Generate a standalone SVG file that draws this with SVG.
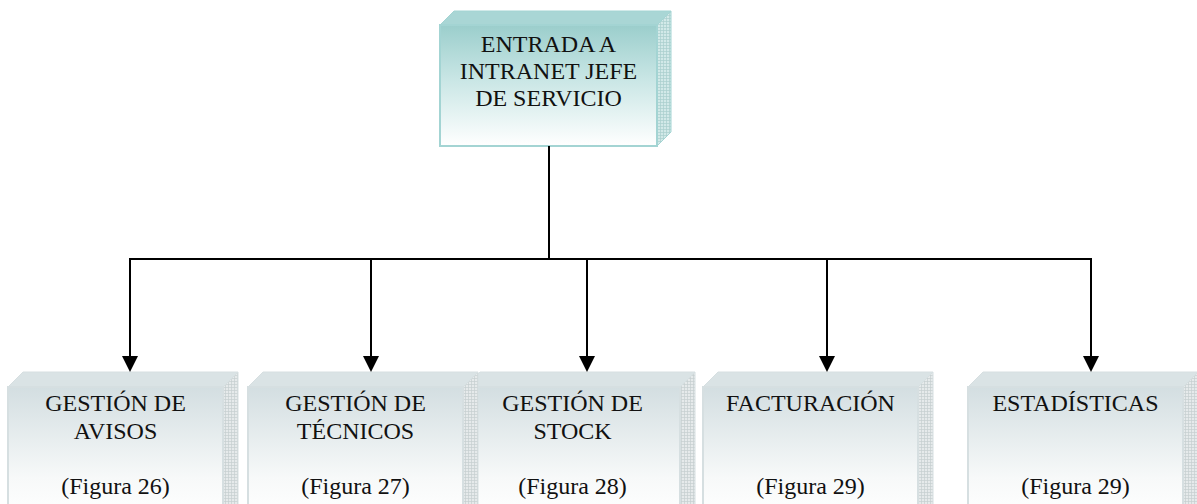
<svg xmlns="http://www.w3.org/2000/svg" width="1197" height="504" viewBox="0 0 1197 504">
<defs>
<linearGradient id="tealFront" x1="0" y1="0" x2="0" y2="1">
<stop offset="0" stop-color="#9bcecc"/>
<stop offset="0.45" stop-color="#c9e6e5"/>
<stop offset="1" stop-color="#ffffff"/>
</linearGradient>
<linearGradient id="greyFront" x1="0" y1="0" x2="0" y2="1">
<stop offset="0" stop-color="#d3dee1"/>
<stop offset="0.7" stop-color="#f7f9f9"/>
<stop offset="1" stop-color="#ffffff"/>
</linearGradient>
<pattern id="tealHatch" width="3" height="3" patternUnits="userSpaceOnUse">
<rect width="3" height="3" fill="#d2e9e8"/>
<path d="M0 0.5H3M0.5 0V3" stroke="#a9cfcd" stroke-width="0.7"/>
</pattern>
<pattern id="greyHatch" width="3" height="3" patternUnits="userSpaceOnUse">
<rect width="3" height="3" fill="#e6eaeb"/>
<path d="M0 0.5H3M0.5 0V3" stroke="#c6cfd0" stroke-width="0.7"/>
</pattern>
<marker id="arrow" markerUnits="userSpaceOnUse" markerWidth="16" markerHeight="16" viewBox="0 0 16 16" refX="6" refY="8" orient="auto">
<path d="M0 0L16 8L0 16Z" fill="#000"/>
</marker>
</defs>
<style>
.lbl{font-family:"Liberation Serif","Times New Roman",serif;font-size:24px;fill:#111;text-anchor:middle}
.tf{fill:url(#tealFront);stroke:#a3d4d3;stroke-width:2}
.tt{fill:#a9d6d5;stroke:#a3d4d3;stroke-width:1}
.ts{fill:url(#tealHatch);stroke:#a3d4d3;stroke-width:1}
.gf{fill:url(#greyFront);stroke:#d6dfe1;stroke-width:2}
.gt{fill:#dae3e5;stroke:#d6dfe1;stroke-width:1}
.gs{fill:url(#greyHatch);stroke:#d6dfe1;stroke-width:1}
.conn{fill:none;stroke:#000;stroke-width:2}
</style>
<rect width="1197" height="504" fill="#ffffff"/>

<g id="node-entrada">
<polygon class="tt" points="440,25 454,11 671,11 657,25"/>
<polygon class="ts" points="657,25 671,11 671,132 657,146"/>
<rect class="tf" x="440" y="25" width="217" height="121"/>
<text class="lbl" x="548.5" y="52">ENTRADA A</text>
<text class="lbl" x="548.5" y="79">INTRANET JEFE</text>
<text class="lbl" x="548.5" y="106">DE SERVICIO</text>
</g>

<g id="node-avisos">
<polygon class="gt" points="8,387 23,372 238,372 223,387"/>
<polygon class="gs" points="223,387 238,372 238,520 223,520"/>
<rect class="gf" x="8" y="387" width="215" height="130"/>
<text class="lbl" x="115.5" y="411">GESTIÓN DE</text>
<text class="lbl" x="115.5" y="439">AVISOS</text>
<text class="lbl" x="115.5" y="494">(Figura 26)</text>
</g>

<g id="node-stock">
<polygon class="gt" points="465,387 480,372 695,372 680,387"/>
<polygon class="gs" points="680,387 695,372 695,520 680,520"/>
<rect class="gf" x="465" y="387" width="215" height="130"/>
<text class="lbl" x="572.5" y="411">GESTIÓN DE</text>
<text class="lbl" x="572.5" y="439">STOCK</text>
<text class="lbl" x="572.5" y="494">(Figura 28)</text>
</g>

<g id="node-tecnicos">
<polygon class="gt" points="248,387 263,372 478,372 463,387"/>
<polygon class="gs" points="463,387 478,372 478,520 463,520"/>
<rect class="gf" x="248" y="387" width="215" height="130"/>
<text class="lbl" x="355.5" y="411">GESTIÓN DE</text>
<text class="lbl" x="355.5" y="439">TÉCNICOS</text>
<text class="lbl" x="355.5" y="494">(Figura 27)</text>
</g>

<g id="node-facturacion">
<polygon class="gt" points="703,387 718,372 933,372 918,387"/>
<polygon class="gs" points="918,387 933,372 933,520 918,520"/>
<rect class="gf" x="703" y="387" width="215" height="130"/>
<text class="lbl" x="810.5" y="411">FACTURACIÓN</text>
<text class="lbl" x="810.5" y="494">(Figura 29)</text>
</g>

<g id="node-estadisticas">
<polygon class="gt" points="968,387 983,372 1198,372 1183,387"/>
<polygon class="gs" points="1183,387 1198,372 1198,520 1183,520"/>
<rect class="gf" x="968" y="387" width="215" height="130"/>
<text class="lbl" x="1075.5" y="411">ESTADÍSTICAS</text>
<text class="lbl" x="1075.5" y="494">(Figura 29)</text>
</g>

<g id="connectors">
<path class="conn" d="M549 146V259M129 259H1092"/>
<path class="conn" d="M130 259V362" marker-end="url(#arrow)"/>
<path class="conn" d="M371 259V362" marker-end="url(#arrow)"/>
<path class="conn" d="M587 259V362" marker-end="url(#arrow)"/>
<path class="conn" d="M827 259V362" marker-end="url(#arrow)"/>
<path class="conn" d="M1091 259V362" marker-end="url(#arrow)"/>
</g>
</svg>
